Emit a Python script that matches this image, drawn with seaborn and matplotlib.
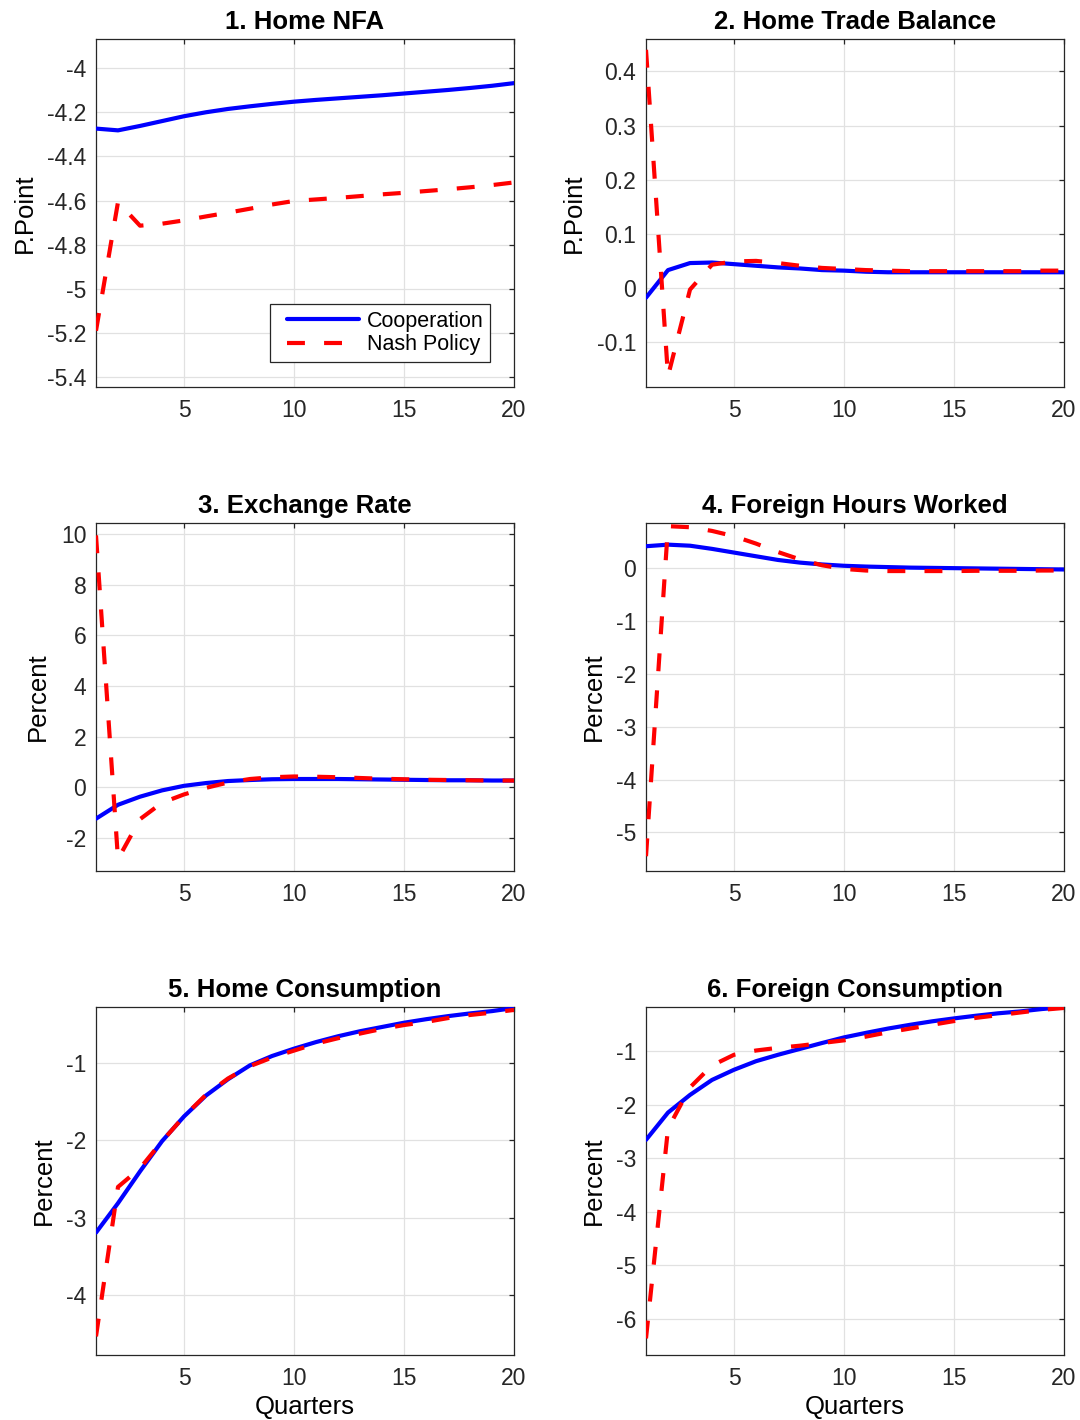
import numpy as np
import pandas as pd
import matplotlib
matplotlib.use("Agg")
import matplotlib.pyplot as plt
from matplotlib.ticker import FuncFormatter
from matplotlib.lines import Line2D
from matplotlib.legend_handler import HandlerLine2D
import seaborn as sns

# ---------------- data ----------------
quarters = list(range(1, 21))

nfa_coop = [-4.274, -4.282, -4.262, -4.240, -4.218, -4.200, -4.185, -4.173, -4.162, -4.152,
            -4.144, -4.137, -4.130, -4.123, -4.115, -4.107, -4.099, -4.090, -4.080, -4.068]
nfa_nash = [-5.19, -4.607, -4.714, -4.705, -4.690, -4.672, -4.655, -4.637, -4.618, -4.602,
            -4.595, -4.588, -4.580, -4.572, -4.565, -4.557, -4.549, -4.540, -4.530, -4.518]

tb_coop = [-0.018, 0.033, 0.046, 0.047, 0.044, 0.041, 0.038, 0.036, 0.033, 0.032,
           0.030, 0.029, 0.029, 0.029, 0.029, 0.029, 0.029, 0.029, 0.029, 0.029]
tb_nash = [0.44, -0.163, -0.003, 0.043, 0.049, 0.050, 0.046, 0.041, 0.037, 0.035,
           0.033, 0.032, 0.031, 0.031, 0.031, 0.031, 0.031, 0.031, 0.032, 0.032]

er_coop = [-1.25, -0.70, -0.38, -0.13, 0.05, 0.16, 0.24, 0.28, 0.31, 0.32,
           0.32, 0.32, 0.31, 0.30, 0.29, 0.28, 0.27, 0.27, 0.26, 0.26]
er_nash = [9.96, -2.85, -1.27, -0.62, -0.29, -0.03, 0.18, 0.32, 0.39, 0.42,
           0.41, 0.39, 0.36, 0.33, 0.31, 0.29, 0.28, 0.27, 0.26, 0.26]

fh_coop = [0.42, 0.45, 0.43, 0.37, 0.30, 0.23, 0.16, 0.11, 0.075, 0.05,
           0.035, 0.025, 0.015, 0.01, 0.005, 0.0, -0.005, -0.01, -0.015, -0.02]
fh_nash = [-5.45, 0.80, 0.78, 0.71, 0.61, 0.47, 0.31, 0.17, 0.06, -0.01,
           -0.04, -0.05, -0.05, -0.05, -0.05, -0.045, -0.045, -0.045, -0.04, -0.04]

hc_coop = [-3.19, -2.81, -2.40, -2.01, -1.69, -1.42, -1.21, -1.03, -0.91, -0.815,
           -0.73, -0.655, -0.59, -0.535, -0.48, -0.435, -0.395, -0.36, -0.33, -0.29]
hc_nash = [-4.53, -2.60, -2.36, -2.01, -1.69, -1.41, -1.20, -1.04, -0.93, -0.84,
           -0.75, -0.68, -0.62, -0.56, -0.51, -0.47, -0.42, -0.38, -0.35, -0.315]

fc_coop = [-2.66, -2.15, -1.82, -1.54, -1.35, -1.19, -1.07, -0.96, -0.85, -0.745,
           -0.66, -0.58, -0.51, -0.445, -0.39, -0.34, -0.295, -0.26, -0.215, -0.18]
fc_nash = [-6.37, -2.45, -1.68, -1.27, -1.07, -0.99, -0.94, -0.90, -0.85, -0.80,
           -0.73, -0.65, -0.58, -0.51, -0.44, -0.38, -0.33, -0.28, -0.23, -0.195]

titles = ["1. Home NFA", "2. Home Trade Balance", "3. Exchange Rate",
          "4. Foreign Hours Worked", "5. Home Consumption", "6. Foreign Consumption"]
ylabels = ["P.Point", "P.Point", "Percent", "Percent", "Percent", "Percent"]
series_names = ["Cooperation", "Nash Policy"]
xticks = [5, 10, 15, 20]
yticks = [
    [-5.4, -5.2, -5.0, -4.8, -4.6, -4.4, -4.2, -4.0],
    [-0.1, 0.0, 0.1, 0.2, 0.3, 0.4],
    [-2, 0, 2, 4, 6, 8, 10],
    [-5, -4, -3, -2, -1, 0],
    [-4, -3, -2, -1],
    [-6, -5, -4, -3, -2, -1],
]
ylims = [(-5.445, -3.868), (-0.183, 0.46), (-3.32, 10.45),
         (-5.73, 0.86), (-4.77, -0.277), (-6.68, -0.177)]

coop_all = [nfa_coop, tb_coop, er_coop, fh_coop, hc_coop, fc_coop]
nash_all = [nfa_nash, tb_nash, er_nash, fh_nash, hc_nash, fc_nash]


class PaddedLineHandler(HandlerLine2D):
    """Legend line handle with extra empty space on its left side."""
    def __init__(self, left_pad_px=9, **kw):
        super().__init__(**kw)
        self.left_pad_px = left_pad_px

    def get_xdata(self, legend, xdescent, ydescent, width, height, fontsize):
        xdata, xdata_marker = super().get_xdata(legend, xdescent, ydescent,
                                                width, height, fontsize)
        pad_pts = self.left_pad_px * 72.0 / 100.0
        xdata = np.array([-xdescent + pad_pts, -xdescent + width])
        return xdata, xdata_marker


# ---------------- style ----------------
sns.set_theme(style="whitegrid")
plt.rcParams["font.family"] = ["Liberation Sans", "DejaVu Sans"]
plt.rcParams["axes.unicode_minus"] = False

DARK = "#262626"
GRIDC = "#e1e1e1"

fig = plt.figure(figsize=(10.8, 14.2), dpi=100)
W, H = 1080.0, 1420.0
lefts = [96, 646]
tops = [39, 523, 1007]
aw, ah = 418, 348

fmt = FuncFormatter(lambda v, p: "%g" % round(v, 6))

for i in range(6):
    r, c = divmod(i, 2)
    ax = fig.add_axes([lefts[c] / W, 1 - (tops[r] + ah) / H, aw / W, ah / H])
    df = pd.DataFrame({"Quarter": quarters, "coop": coop_all[i], "nash": nash_all[i]})
    sns.lineplot(data=df, x="Quarter", y="coop", ax=ax, color=(0, 0, 1), lw=3,
                 label=series_names[0], zorder=3)
    sns.lineplot(data=df, x="Quarter", y="nash", ax=ax, color=(1, 0, 0), lw=3,
                 linestyle=(0, (4.3, 4.6)), label=series_names[1], zorder=4)
    ax.set_xlim(1, 20)
    ax.set_ylim(*ylims[i])
    ax.set_xticks(xticks)
    ax.set_yticks(yticks[i])
    ax.yaxis.set_major_formatter(fmt)
    ax.xaxis.set_major_formatter(fmt)
    ax.set_facecolor("white")
    ax.grid(True, color=GRIDC, lw=0.9)
    for s in ax.spines.values():
        s.set_visible(True)
        s.set_color(DARK)
        s.set_linewidth(0.9)
    ax.tick_params(axis="both", which="major", direction="in", length=3.5, width=0.9,
                   colors=DARK, labelsize=16.5, top=True, right=True,
                   labelcolor=DARK)
    ax.tick_params(axis="x", pad=8.5)
    ax.tick_params(axis="y", pad=7)
    ax.set_title(titles[i], fontsize=18.5, fontweight="bold", color="black", pad=7)
    ax.set_ylabel(ylabels[i], fontsize=18.5, color="black", labelpad=7.5)
    if r == 2:
        ax.set_xlabel("Quarters", fontsize=18.5, color="black", labelpad=4)
    else:
        ax.set_xlabel("")
    if i == 0:
        handles, labels = ax.get_legend_handles_labels()
        leg = ax.legend(handles, labels, loc="lower right",
                        bbox_to_anchor=(0.943, 0.072),
                        borderaxespad=0, fontsize=15.5, handlelength=3.85,
                        handletextpad=0.35, borderpad=0.3, labelspacing=0.12,
                        frameon=True, fancybox=False, framealpha=1, edgecolor=DARK,
                        handler_map={Line2D: PaddedLineHandler(left_pad_px=10)})
        leg.get_frame().set_linewidth(0.9)
        for t in leg.get_texts():
            t.set_color("black")
    else:
        lg = ax.get_legend()
        if lg is not None:
            lg.remove()

fig.savefig("out.png", dpi=100, facecolor="white")
